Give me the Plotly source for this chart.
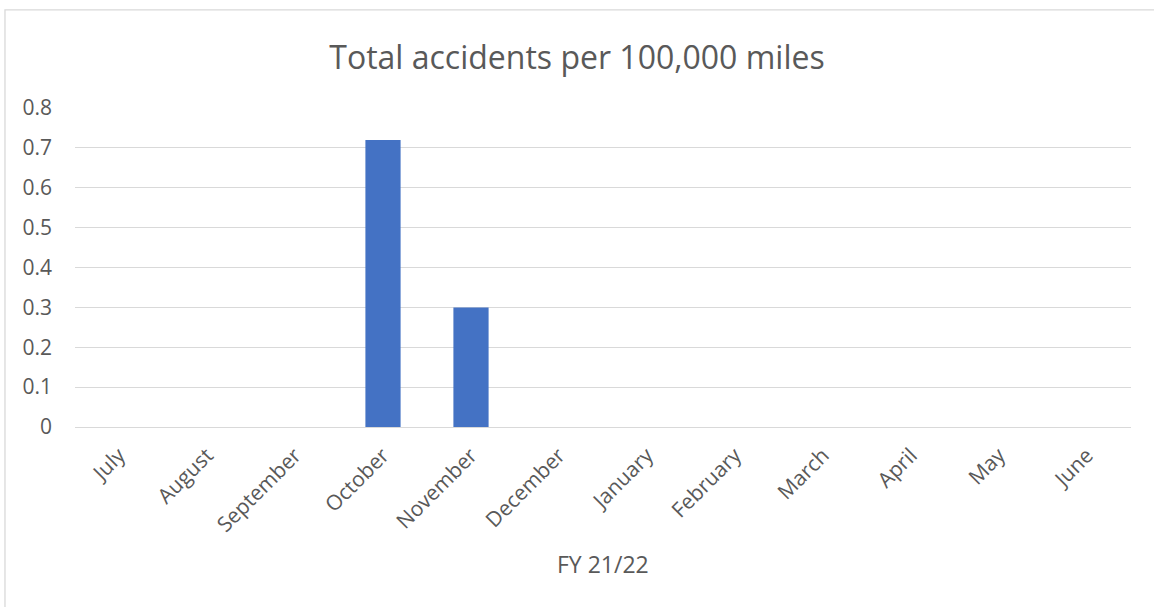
import plotly.graph_objects as go

months = ["July", "August", "September", "October", "November", "December",
          "January", "February", "March", "April", "May", "June"]
values = [0, 0, 0, 0.72, 0.3, 0, 0, 0, 0, 0, 0, 0]
y_ticks = [0, 0.1, 0.2, 0.3, 0.4, 0.5, 0.6, 0.7, 0.8]
y_tick_text = ["0", "0.1", "0.2", "0.3", "0.4", "0.5", "0.6", "0.7", "0.8"]

FONT = "Open Sans"
GRAY = "#595959"

fig = go.Figure(go.Bar(x=months, y=values, marker=dict(color="#4472C4", line=dict(width=0))))

fig.update_layout(
    width=1154, height=607,
    margin=dict(l=75, r=23, t=107.5, b=179.5),
    paper_bgcolor="white", plot_bgcolor="white",
    bargap=0.6,
    showlegend=False,
    font=dict(family=FONT, color=GRAY),
    title=dict(text="Total accidents per 100,000 miles", x=0.5, xanchor="center",
               y=1 - 58 / 607, yanchor="middle",
               font=dict(family=FONT, size=32, color=GRAY)),
    xaxis=dict(tickangle=-45, tickfont=dict(size=21, color=GRAY),
               showgrid=False, showline=False, ticks="", ticklabelstandoff=11),
    yaxis=dict(range=[0, 0.8], tickvals=y_ticks, ticktext=y_tick_text,
               tickfont=dict(size=21, color=GRAY), gridcolor="#d9d9d9", gridwidth=1.3,
               zeroline=True, zerolinecolor="#d9d9d9", zerolinewidth=1.3,
               showline=False, ticks="", ticklabelstandoff=22),
    annotations=[dict(text="FY 21/22", xref="paper", yref="paper", x=0.5, y=(427.5 - 565) / 320,
                      xanchor="center", yanchor="middle", showarrow=False,
                      font=dict(family=FONT, size=23, color=GRAY))],
    shapes=[dict(type="rect", xref="paper", yref="paper",
                 x0=-0.0663, x1=1.1, y0=-0.7, y1=1.3078,
                 line=dict(color="#d9d9d9", width=1.3), layer="below")],
)

fig.write_html("out.html")
